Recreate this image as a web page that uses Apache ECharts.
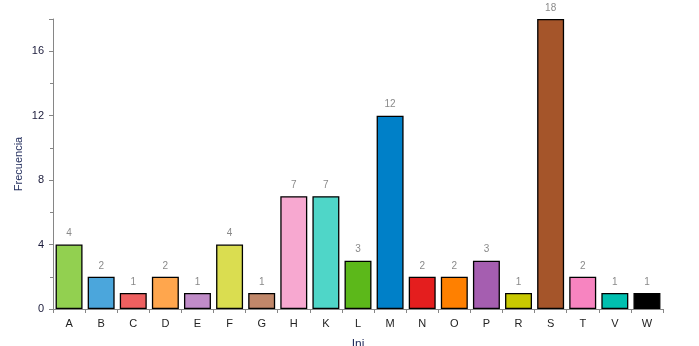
<!DOCTYPE html>
<html><head><meta charset="utf-8">
<script src="https://cdn.jsdelivr.net/npm/echarts@6/dist/echarts.min.js"></script>
<style>html,body{margin:0;padding:0;background:#fff}#c{width:699px;height:346px}</style>
</head><body><div id="c"></div>
<script>
const categories = ['A','B','C','D','E','F','G','H','K','L','M','N','O','P','R','S','T','V','W'];
const values = [4,2,1,2,1,4,1,7,7,3,12,2,2,3,1,18,2,1,1];
const colors = ['#92D050','#4BA6DC','#EE6060','#FFA64D','#C08CC8','#DADD50','#C0876A','#F7A8D0','#4FD6C8','#5CB81A','#0080C8','#E41E1E','#FF8000','#A55EB0','#C8C800','#A5552A','#F784C0','#00BFAF','#000000'];

const chart = echarts.init(document.getElementById('c'), null, {renderer:'canvas'});
chart.setOption({
  animation:false,
  grid:{left:53,right:36,top:19,bottom:37,containLabel:false,outerBoundsMode:'none'},
  xAxis:{
    type:'category', data:categories,
    name:'Ini', nameLocation:'middle', nameGap:30, nameMoveOverlap:false,
    nameTextStyle:{color:'#1F2A5A',fontFamily:'Liberation Sans',fontSize:12},
    axisLine:{lineStyle:{color:'#868686',width:1}},
    axisTick:{show:true,length:4,lineStyle:{color:'#868686'}},
    axisLabel:{color:'#222',fontFamily:'Liberation Sans',fontSize:11,margin:9}
  },
  yAxis:{
    type:'value', min:0, max:18, interval:4,
    name:'Frecuencia', nameLocation:'middle', nameGap:29, nameMoveOverlap:false,
    nameTextStyle:{color:'#1F2A5A',fontFamily:'Liberation Sans',fontSize:11},
    axisLine:{show:true,lineStyle:{color:'#868686',width:1}},
    axisTick:{show:true,length:4,lineStyle:{color:'#868686'}},
    minorTick:{show:true,splitNumber:2,length:3,lineStyle:{color:'#868686'}},
    splitLine:{show:false},
    axisLabel:{color:'#1a1a3a',fontFamily:'Liberation Sans',fontSize:11,margin:9,showMaxLabel:false,
      formatter:v=> v===18?'':String(v)}
  },
  series:[{
    type:'bar',
    data:values.map((v,i)=>({value:v,itemStyle:{color:colors[i]}})),
    barCategoryGap:'16%',
    itemStyle:{borderColor:'#000',borderWidth:1.3},
    label:{show:true,position:'top',distance:6,color:'#8a8a8a',fontFamily:'Liberation Sans',fontSize:10}
  }]
});
</script></body></html>
